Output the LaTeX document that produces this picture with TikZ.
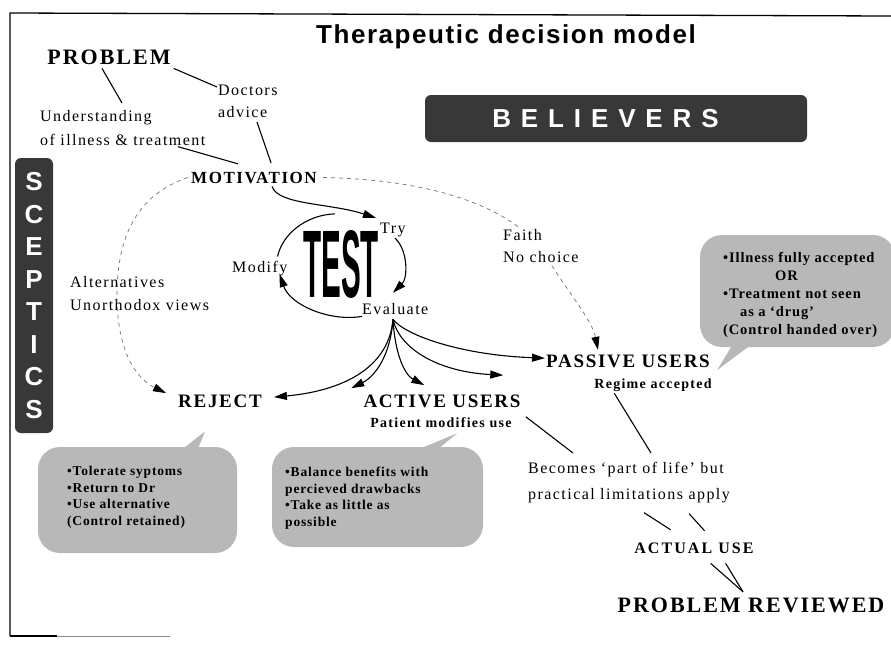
\documentclass[tikz,border=0pt]{standalone}
\usepackage{graphicx}
\usepackage{fontspec}
\setmainfont{Liberation Serif}
\setsansfont{Liberation Sans}
\newfontfamily\trk[LetterSpace=9]{Liberation Serif}
\newfontfamily\trkw[LetterSpace=13]{Liberation Serif}
\newfontfamily\trkc[LetterSpace=6]{Liberation Serif}
\newfontfamily\titlef[LetterSpace=6]{Liberation Sans}
\newfontfamily\belf[LetterSpace=38]{Liberation Sans}
\usetikzlibrary{arrows.meta,backgrounds}
\begin{document}
\begin{tikzpicture}[x=1pt,y=-1pt,
  every node/.style={inner sep=0pt},
  lbl/.style={font=\trk\fontsize{16}{22}\selectfont,align=left},
  hd/.style={font=\trk\bfseries\fontsize{19}{22}\selectfont},
  bighd/.style={font=\trk\bfseries\fontsize{22}{26}\selectfont},
  sub/.style={font=\trk\bfseries\fontsize{14}{18}\selectfont},
  co/.style={font=\trkc\bfseries\fontsize{13.5}{16.6}\selectfont,align=left},
  cobg/.style={fill=black!28,rounded corners=22pt},
  tail/.style={fill=black!28},
  dark/.style={fill=black!78,rounded corners=6pt,text=white},
  ln/.style={line width=1.1pt},
  arr/.style={line width=1.1pt,-{Triangle[length=13pt,width=8pt]}},
  dsh/.style={line width=0.7pt,draw=black!55,dash pattern=on 4pt off 4pt,
     -{Triangle[length=13pt,width=8pt,color=black]}}
]
\useasboundingbox (0,0) rectangle (891,651);
% frame
\draw[line width=1.3pt] (10,636) -- (10,13) -- (891,16);
\draw[line width=1.3pt] (10,636) -- (57,636);
\draw[line width=0.6pt,black!45] (57,636) -- (170,636);

\node[font=\titlef\bfseries\fontsize{26}{30}\selectfont,anchor=base] (title) at (506,43) {Therapeutic decision model};

\node[dark,minimum width=382pt,minimum height=47pt,font=\belf\bfseries\fontsize{26}{28}\selectfont] (believers) at (616,118.5) {\hspace*{-21pt}BELIEVERS};
\node[dark,minimum width=38pt,minimum height=275pt,align=center,font=\sffamily\bfseries\fontsize{26}{32.5}\selectfont] (sceptics) at (34,295.5) {S\\C\\E\\P\\T\\I\\C\\S};

% callouts
\node[cobg,minimum width=199pt,minimum height=106pt] (rejbox) at (137.5,500) {};
\node[cobg,minimum width=211pt,minimum height=100pt] (actbox) at (377.5,497) {};
\node[cobg,minimum width=195pt,minimum height=112pt] (pasbox) at (797.5,291) {};

% labels
\node[bighd,anchor=base] (problem) at (109,64) {PROBLEM};
\node[lbl,anchor=north west] (doctors) at (218,85) {Doctors\\advice};
\node[lbl,anchor=north west,font=\trk\fontsize{16}{24}\selectfont] (underst) at (40,110) {Understanding\\of illness \& treatment};
\node[font=\trk\bfseries\fontsize{17}{20}\selectfont,anchor=base] (motivation) at (254,183) {MOTIVATION};
\node[lbl,anchor=base west] (try) at (380,233) {Try};
\node[lbl,anchor=base west] (modify) at (232,272) {Modify};
\node[lbl,anchor=base west] (evaluate) at (362,314) {Evaluate};
\node[font=\sffamily\bfseries\fontsize{40}{40}\selectfont] (test) at (341,264) {\scalebox{0.74}[2.4]{TEST}};
\node[lbl,anchor=north west,font=\trk\fontsize{16}{23}\selectfont] (alt) at (70,276) {Alternatives\\Unorthodox views};
\node[lbl,anchor=north west,fill=white,inner sep=1pt] (faith) at (502,228) {Faith\\No choice};
\node[hd,anchor=base] (reject) at (220,407) {REJECT};
\node[hd,anchor=base] (active) at (442,407) {ACTIVE USERS};
\node[sub,anchor=base] (patient) at (441,427) {Patient modifies use};
\node[hd,anchor=base] (passive) at (628,367) {PASSIVE USERS};
\node[sub,anchor=base] (regime) at (653,388) {Regime accepted};
\node[lbl,anchor=north west,font=\trk\fontsize{16}{26}\selectfont] (becomes) at (528,462) {Becomes ‘part of life’ but\\practical limitations apply};
\node[font=\trkw\bfseries\fontsize{16}{20}\selectfont,anchor=base] (actual) at (694,553) {ACTUAL USE};
\node[bighd,anchor=base] (reviewed) at (751,612) {PROBLEM REVIEWED};

% callout texts
\node[co,anchor=north west] (rejtxt) at (67,466) {•Tolerate syptoms\\•Return to Dr\\•Use alternative\\(Control retained)};
\node[co,anchor=north west] (acttxt) at (285,467) {•Balance benefits with\\percieved drawbacks\\•Take as little as\\possible};
\node[co,anchor=north west,font=\trkc\bfseries\fontsize{14.5}{18}\selectfont] (pastxt) at (723,252) {•Illness fully accepted\\\hspace*{52pt}OR\\•Treatment not seen\\\hspace*{17pt}as a ‘drug’\\(Control handed over)};

% callout tails
\fill[tail] ([shift={(-57pt,-4pt)}]rejbox.north east) -- ([shift={(-15pt,-24pt)}]reject.south) -- ([shift={(-40pt,-4pt)}]rejbox.north east) -- cycle;
\fill[tail] ([shift={(-66pt,-3pt)}]actbox.north east) -- ([shift={(16pt,-6pt)}]patient.south) -- ([shift={(-46pt,-3pt)}]actbox.north east) -- cycle;
\fill[tail] ([shift={(33pt,3pt)}]pasbox.south west) -- ([shift={(7pt,-9.3pt)}]passive.east) -- ([shift={(52pt,3pt)}]pasbox.south west) -- cycle;

% plain connectors
\draw[ln] ([shift={(-7pt,-4pt)}]problem.south) -- ([shift={(82pt,7pt)}]underst.north west);
\draw[ln] ([shift={(3pt,-4pt)}]problem.south east) -- ([shift={(-1pt,-2pt)}]doctors.north west);
\draw[ln] ([shift={(39pt,-4pt)}]doctors.south west) -- ([shift={(17pt,8.7pt)}]motivation.north);
\draw[ln] ([shift={(138pt,-1pt)}]underst.south west) -- ([shift={(-16pt,7.7pt)}]motivation.north);

% test loop
\draw[arr] ([shift={(18pt,-3pt)}]motivation.south) .. controls (278,205) and (330,203) .. ([shift={(-4pt,4.4pt)}]try.north west);
\draw[arr] ([shift={(15pt,-1.5pt)}]try.south west) .. controls (408,250) and (408,278) .. ([shift={(31pt,10pt)}]evaluate.north west);
\draw[arr] ([shift={(0pt,-2pt)}]evaluate.south west) .. controls (330,322) and (290,305) .. ([shift={(-8pt,1.5pt)}]modify.south east);
\draw[ln] ([shift={(-10pt,4pt)}]modify.north east) .. controls (282,235) and (305,215) .. ([shift={(-6pt,16pt)}]test.north);

% evaluate fan
\draw[arr] ([shift={(31pt,-5pt)}]evaluate.south west) .. controls (388,375) and (330,392) .. ([shift={(12pt,3.7pt)}]reject.east);
\draw[arr] ([shift={(31pt,-5pt)}]evaluate.south west) .. controls (390,360) and (372,378) .. ([shift={(-12pt,12.7pt)}]active.west);
\draw[arr] ([shift={(31pt,-5pt)}]evaluate.south west) .. controls (395,355) and (405,375) .. ([shift={(61pt,15.7pt)}]active.west);
\draw[arr] ([shift={(31pt,-5pt)}]evaluate.south west) .. controls (400,350) and (440,372) .. ([shift={(140pt,25.7pt)}]active.west);
\draw[arr] ([shift={(31pt,-5pt)}]evaluate.south west) .. controls (405,335) and (460,355) .. ([shift={(-1pt,2.7pt)}]passive.west);

% dashed
\draw[dsh] ([xshift=-3pt]motivation.west) .. controls (135,195) and (116,240) .. (117,300) .. controls (118,350) and (135,378) .. ([shift={(-12pt,7.7pt)}]reject.west);
\begin{scope}[on background layer]
\draw[dsh] ([xshift=6pt]motivation.east) .. controls (450,180) and (520,215) .. (545,255) .. controls (570,295) and (592,320) .. ([shift={(52pt,4.4pt)}]passive.north west);
\end{scope}

% lower connectors
\draw[ln] ([shift={(20pt,-2pt)}]regime.south west) -- ([shift={(123pt,9pt)}]becomes.north west);
\draw[ln] ([shift={(14pt,5.4pt)}]patient.east) -- ([shift={(45pt,9pt)}]becomes.north west);
\draw[ln] ([shift={(116pt,-9.5pt)}]becomes.south west) -- ([shift={(36.5pt,12.4pt)}]actual.north west);
\draw[ln] ([shift={(161pt,-10.5pt)}]becomes.south west) -- ([shift={(70.5pt,11.4pt)}]actual.north west);
\draw[ln] ([shift={(76.5pt,-10pt)}]actual.south west) -- ([shift={(-8pt,5.4pt)}]reviewed.north);
\draw[ln] ([shift={(91.5pt,-10pt)}]actual.south west) -- ([shift={(-8pt,5.4pt)}]reviewed.north);
\end{tikzpicture}
\end{document}
